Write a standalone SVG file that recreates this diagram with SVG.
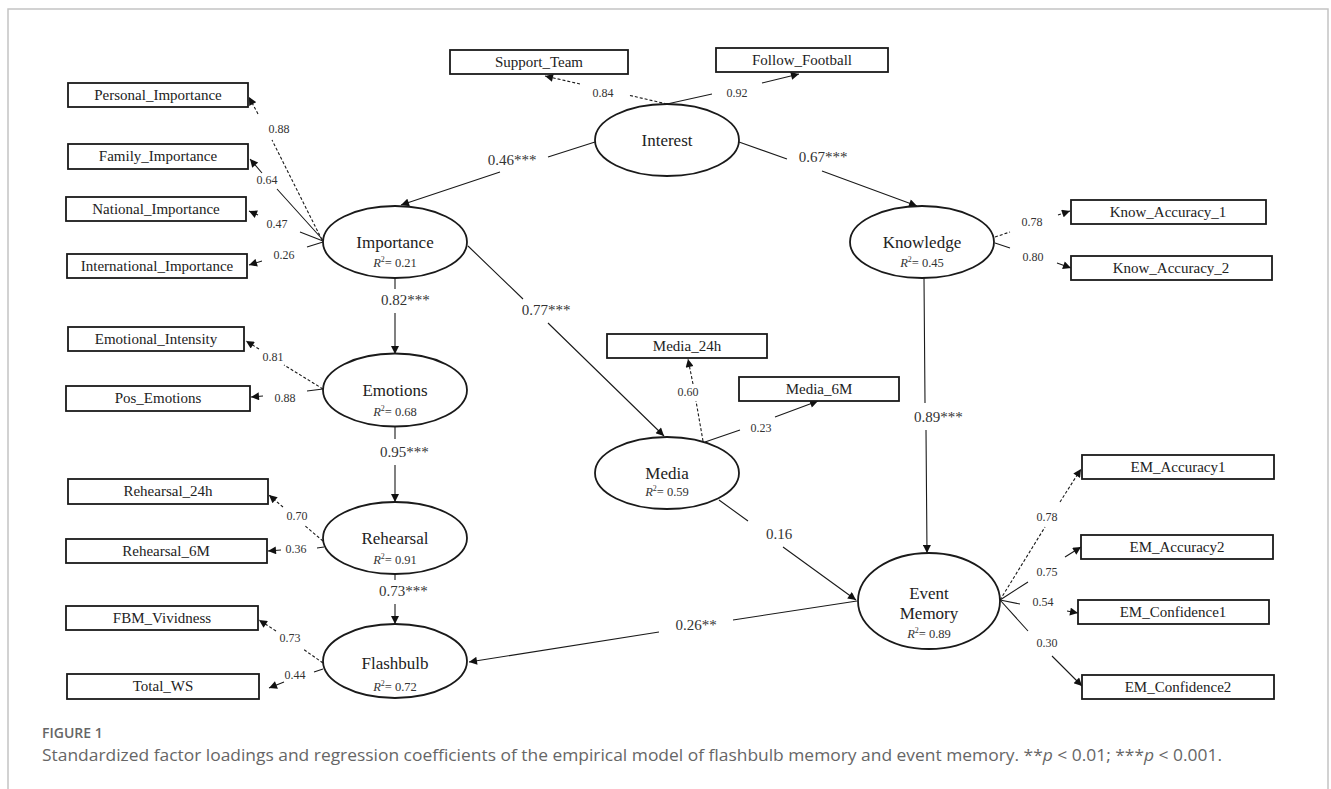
<svg xmlns="http://www.w3.org/2000/svg" width="1331" height="789" viewBox="0 0 1331 789">
<style>
.box{fill:#fff;stroke:#1a1a1a;stroke-width:1.8}
.ell{fill:#fff;stroke:#1a1a1a;stroke-width:1.8}
.bt{font-family:"Liberation Serif","Times New Roman",serif;font-size:15px;fill:#222;text-anchor:middle}
.et{font-family:"Liberation Serif","Times New Roman",serif;font-size:17px;fill:#222;text-anchor:middle}
.r2{font-family:"Liberation Serif","Times New Roman",serif;font-size:12.5px;fill:#333;text-anchor:middle}
.ld{font-family:"Liberation Serif","Times New Roman",serif;font-size:12px;fill:#333;text-anchor:middle}
.pc{font-family:"Liberation Serif","Times New Roman",serif;font-size:15px;fill:#333;text-anchor:middle}
.pcs{font-family:"Liberation Serif","Times New Roman",serif;font-size:15px;fill:#333;text-anchor:start}
.c{fill:none;stroke:#1a1a1a;stroke-width:1.1;marker-end:url(#ah)}
.d{stroke-dasharray:3 2}
.cap{font-family:"Open Sans","Noto Sans",sans-serif;fill:#666}
</style>
<defs>
<marker id="ah" viewBox="0 0 10 10" refX="10" refY="5" markerWidth="10" markerHeight="8" markerUnits="userSpaceOnUse" orient="auto">
<path d="M0,0 L10,5 L0,10 z" fill="#111"/>
</marker>
</defs>
<rect x="0" y="0" width="1331" height="789" fill="#fff"/>
<path d="M8,789 L8,9 L1328,9 L1328,789" fill="none" stroke="#c4c4c4" stroke-width="1.5"/>

<g id="connectors">
<path class="c" d="M595,142 L548,157 M500,172 L401,205"/>
<path class="c" d="M739,142 L787,159 M822,171 L917,206"/>
<path class="c d" d="M667,104 L628,95 M580,84 L545,76"/>
<path class="c" d="M667,104 L712,94 M762,83 L799,74"/>
<path class="c d" d="M322,240 L272,140 M258,114 L249,97"/>
<path class="c" d="M323,240 L277,189 M262,173 L250,159"/>
<path class="c" d="M323,241 L300,232 M258,215 L249,211"/>
<path class="c" d="M323,242 L307,247 M262,261 L249,265"/>
<path class="c" d="M395,278 L395,289 M395,313 L395,354"/>
<path class="c" d="M395,427 L395,439 M395,465 L395,502"/>
<path class="c" d="M395,574 L395,580 M395,604 L395,624"/>
<path class="c" d="M468,246 L523,299 M548,323 L664,436"/>
<path class="c d" d="M323,389 L284,365 M259,349 L246,341"/>
<path class="c" d="M323,389 L307,391 M263,396 L251,397"/>
<path class="c d" d="M323,541 L304,525 M283,507 L269,495"/>
<path class="c" d="M324,547 L317,548 M281,550 L268,551"/>
<path class="c d" d="M323,663 L303,649 M276,631 L259,620"/>
<path class="c" d="M323,669 L314,672 M284,682 L269,688"/>
<path class="c d" d="M995,237 L1010,232 M1058,215 L1070,211"/>
<path class="c" d="M995,243 L1010,248 M1057,263 L1071,268"/>
<path class="c" d="M924,278 L925,403 M926,430 L927,553"/>
<path class="c d" d="M703,441 L696,401 M693,384 L688,359"/>
<path class="c" d="M705,442 L740,430 M775,417 L818,401"/>
<path class="c" d="M719,500 L748,521 M783,547 L856,600"/>
<path class="c" d="M857,601 L733,620 M659,632 L469,662"/>
<path class="c d" d="M1000,600 L1045,527 M1060,502 L1081,469"/>
<path class="c" d="M1000,600 L1028,582 M1065,557 L1081,547"/>
<path class="c" d="M1000,600 L1020,604 M1067,611 L1078,613"/>
<path class="c" d="M1000,600 L1028,631 M1052,656 L1082,686"/>
</g>

<g id="labels">
<text class="ld" x="603" y="97">0.84</text>
<text class="ld" x="737" y="97">0.92</text>
<text class="pc" x="512" y="165">0.46***</text>
<text class="pc" x="823" y="162">0.67***</text>
<text class="ld" x="279" y="133">0.88</text>
<text class="ld" x="267" y="184">0.64</text>
<text class="ld" x="277" y="228">0.47</text>
<text class="ld" x="284" y="259">0.26</text>
<text class="pcs" x="381" y="305">0.82***</text>
<text class="pcs" x="380" y="457">0.95***</text>
<text class="pcs" x="379" y="596">0.73***</text>
<text class="pc" x="546" y="315">0.77***</text>
<text class="ld" x="273" y="361">0.81</text>
<text class="ld" x="285" y="402">0.88</text>
<text class="ld" x="297" y="520">0.70</text>
<text class="ld" x="296" y="553">0.36</text>
<text class="ld" x="290" y="642">0.73</text>
<text class="ld" x="295" y="679">0.44</text>
<text class="ld" x="1032" y="226">0.78</text>
<text class="ld" x="1033" y="261">0.80</text>
<text class="pcs" x="914" y="422">0.89***</text>
<text class="ld" x="688" y="396">0.60</text>
<text class="ld" x="761" y="432">0.23</text>
<text class="pc" x="779" y="539">0.16</text>
<text class="pc" x="696" y="630">0.26**</text>
<text class="ld" x="1047" y="521">0.78</text>
<text class="ld" x="1047" y="576">0.75</text>
<text class="ld" x="1043" y="606">0.54</text>
<text class="ld" x="1047" y="647">0.30</text>
</g>

<g id="interest"><ellipse class="ell" cx="667" cy="140" rx="72" ry="36"/><text class="et" x="667" y="146">Interest</text></g>
<g id="importance"><ellipse class="ell" cx="395" cy="242" rx="72" ry="36"/><text class="et" x="395" y="248">Importance</text><text class="r2" x="395" y="267"><tspan font-style="italic">R</tspan><tspan font-size="8" dy="-5">2</tspan><tspan dy="5">= 0.21</tspan></text></g>
<g id="emotions"><ellipse class="ell" cx="395" cy="390" rx="72" ry="36.5"/><text class="et" x="395" y="396">Emotions</text><text class="r2" x="395" y="416"><tspan font-style="italic">R</tspan><tspan font-size="8" dy="-5">2</tspan><tspan dy="5">= 0.68</tspan></text></g>
<g id="rehearsal"><ellipse class="ell" cx="395" cy="538" rx="72" ry="36"/><text class="et" x="395" y="544">Rehearsal</text><text class="r2" x="395" y="564"><tspan font-style="italic">R</tspan><tspan font-size="8" dy="-5">2</tspan><tspan dy="5">= 0.91</tspan></text></g>
<g id="flashbulb"><ellipse class="ell" cx="395" cy="661" rx="72" ry="37"/><text class="et" x="395" y="669">Flashbulb</text><text class="r2" x="395" y="691"><tspan font-style="italic">R</tspan><tspan font-size="8" dy="-5">2</tspan><tspan dy="5">= 0.72</tspan></text></g>
<g id="knowledge"><ellipse class="ell" cx="922" cy="242" rx="72" ry="36"/><text class="et" x="922" y="248">Knowledge</text><text class="r2" x="922" y="267"><tspan font-style="italic">R</tspan><tspan font-size="8" dy="-5">2</tspan><tspan dy="5">= 0.45</tspan></text></g>
<g id="media"><ellipse class="ell" cx="667" cy="473" rx="72" ry="36"/><text class="et" x="667" y="479">Media</text><text class="r2" x="667" y="496"><tspan font-style="italic">R</tspan><tspan font-size="8" dy="-5">2</tspan><tspan dy="5">= 0.59</tspan></text></g>
<g id="event_memory"><ellipse class="ell" cx="929" cy="601" rx="71" ry="48"/><text class="et" x="929" y="599">Event</text><text class="et" x="929" y="619">Memory</text><text class="r2" x="929" y="638"><tspan font-style="italic">R</tspan><tspan font-size="8" dy="-5">2</tspan><tspan dy="5">= 0.89</tspan></text></g>

<g id="support_team"><rect class="box" x="450" y="50" width="178" height="24"/><text class="bt" x="539" y="67">Support_Team</text></g>
<g id="follow_football"><rect class="box" x="716" y="48" width="172" height="24"/><text class="bt" x="802" y="65">Follow_Football</text></g>
<g id="personal_importance"><rect class="box" x="68" y="83" width="180" height="24"/><text class="bt" x="158" y="100">Personal_Importance</text></g>
<g id="family_importance"><rect class="box" x="68" y="144" width="180" height="25"/><text class="bt" x="158" y="161">Family_Importance</text></g>
<g id="national_importance"><rect class="box" x="66" y="197" width="180" height="24"/><text class="bt" x="156" y="214">National_Importance</text></g>
<g id="international_importance"><rect class="box" x="67" y="254" width="180" height="24"/><text class="bt" x="157" y="271">International_Importance</text></g>
<g id="emotional_intensity"><rect class="box" x="68" y="327" width="176" height="24"/><text class="bt" x="156" y="344">Emotional_Intensity</text></g>
<g id="pos_emotions"><rect class="box" x="66" y="386" width="184" height="25"/><text class="bt" x="158" y="403">Pos_Emotions</text></g>
<g id="rehearsal_24h"><rect class="box" x="68" y="479" width="200" height="25"/><text class="bt" x="168" y="496">Rehearsal_24h</text></g>
<g id="rehearsal_6m"><rect class="box" x="66" y="539" width="201" height="24"/><text class="bt" x="166" y="556">Rehearsal_6M</text></g>
<g id="fbm_vividness"><rect class="box" x="66" y="606" width="192" height="24"/><text class="bt" x="162" y="623">FBM_Vividness</text></g>
<g id="total_ws"><rect class="box" x="67" y="674" width="192" height="25"/><text class="bt" x="163" y="691">Total_WS</text></g>
<g id="know_accuracy_1"><rect class="box" x="1071" y="200" width="195" height="24"/><text class="bt" x="1168" y="217">Know_Accuracy_1</text></g>
<g id="know_accuracy_2"><rect class="box" x="1071" y="256" width="201" height="24"/><text class="bt" x="1171" y="273">Know_Accuracy_2</text></g>
<g id="media_24h"><rect class="box" x="607" y="334" width="160" height="24"/><text class="bt" x="687" y="351">Media_24h</text></g>
<g id="media_6m"><rect class="box" x="739" y="377" width="160" height="24"/><text class="bt" x="819" y="394">Media_6M</text></g>
<g id="em_accuracy1"><rect class="box" x="1082" y="455" width="192" height="24"/><text class="bt" x="1178" y="472">EM_Accuracy1</text></g>
<g id="em_accuracy2"><rect class="box" x="1081" y="535" width="192" height="24"/><text class="bt" x="1177" y="552">EM_Accuracy2</text></g>
<g id="em_confidence1"><rect class="box" x="1078" y="600" width="191" height="24"/><text class="bt" x="1173" y="617">EM_Confidence1</text></g>
<g id="em_confidence2"><rect class="box" x="1082" y="675" width="192" height="24"/><text class="bt" x="1178" y="692">EM_Confidence2</text></g>

<g id="caption">
<text class="cap" x="42" y="738" font-size="14" font-weight="600" fill="#6b6b6b">FIGURE 1</text>
<text class="cap" x="42" y="761" font-size="16" fill="#555" textLength="1180" lengthAdjust="spacingAndGlyphs">Standardized factor loadings and regression coefficients of the empirical model of flashbulb memory and event memory. **<tspan font-style="italic">p</tspan> &lt; 0.01; ***<tspan font-style="italic">p</tspan> &lt; 0.001.</text>
</g>
</svg>
